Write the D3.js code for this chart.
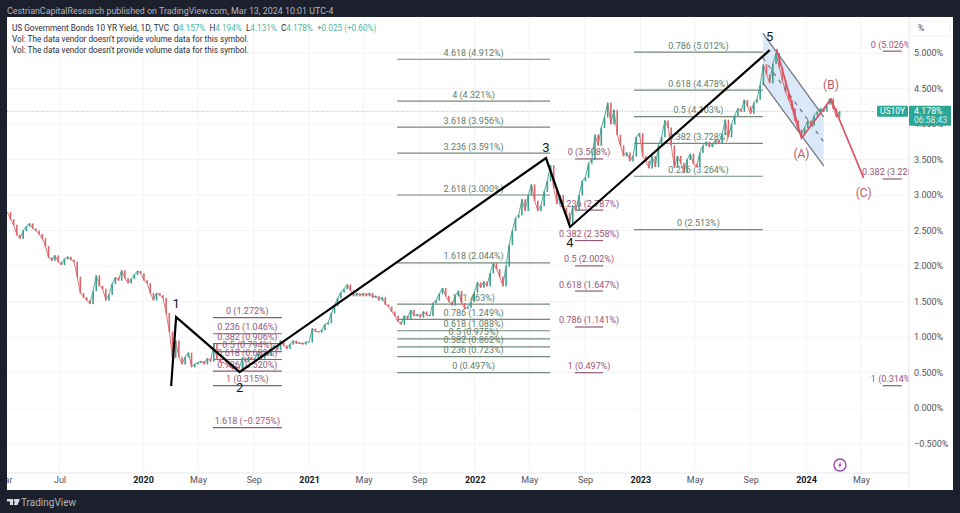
<!DOCTYPE html>
<html>
<head>
<meta charset="utf-8">
<script src="https://cdn.jsdelivr.net/npm/d3@7"></script>
<style>
    html, body { margin: 0; padding: 0; background: #1c202c; }
    svg { display: block; font-family: Roboto, "Noto Sans", sans-serif; }
</style>
</head>
<body>
<svg id="chart" width="960" height="513"></svg>
<script>
// weekly closes, first week is firstWeek
let firstWeek = new Date(2019, 2, 8)
let closes = [
    2.76,2.66,2.58,2.44,2.39,2.50,2.56,2.60,2.53,2.50,
    2.45,2.39,2.28,2.12,2.08,2.15,2.06,2.02,2.10,2.13,
    2.09,2.06,1.85,1.62,1.56,1.52,1.47,1.65,1.87,1.72,
    1.68,1.52,1.60,1.75,1.84,1.80,1.94,1.83,1.76,1.82,
    1.88,1.93,1.90,1.80,1.76,1.62,1.52,1.62,1.59,1.55,
    1.34,1.08,0.71,0.95,0.72,0.62,0.72,0.78,0.58,0.62,
    0.64,0.66,0.62,0.70,0.66,0.90,0.70,0.65,0.64,0.62,
    0.58,0.55,0.58,0.56,0.71,0.66,0.72,0.68,0.70,0.78,
    0.70,0.78,0.74,0.84,0.88,0.82,0.95,0.88,0.84,0.90,
    0.95,0.91,0.92,0.90,0.93,0.93,1.12,1.08,1.07,1.10,
    1.18,1.20,1.34,1.44,1.55,1.63,1.68,1.74,1.66,1.58,
    1.62,1.58,1.62,1.58,1.62,1.56,1.58,1.52,1.56,1.46,
    1.43,1.36,1.30,1.22,1.18,1.30,1.26,1.38,1.30,1.32,
    1.28,1.36,1.31,1.30,1.48,1.52,1.61,1.69,1.58,1.50,
    1.45,1.58,1.65,1.48,1.40,1.42,1.50,1.63,1.77,1.70,
    1.78,1.72,1.90,2.04,1.96,1.85,1.72,2.00,2.30,2.50,
    2.68,2.72,2.94,2.78,3.00,3.15,2.92,2.78,2.85,3.05,
    3.20,3.42,3.10,2.88,3.00,2.82,2.75,2.60,2.85,2.78,
    3.00,3.20,3.25,3.45,3.50,3.85,3.70,3.95,4.10,4.30,
    4.00,4.20,3.85,3.70,3.55,3.60,3.48,3.55,3.82,3.87,
    3.55,3.48,3.38,3.55,3.40,3.70,3.82,4.05,3.95,3.70,
    3.39,3.55,3.45,3.32,3.50,3.58,3.44,3.40,3.60,3.70,
    3.75,3.68,3.72,3.78,3.74,3.85,4.06,3.82,4.00,4.12,
    4.22,4.18,4.34,4.25,4.15,4.30,4.35,4.55,4.84,4.70,
    4.58,4.85,5.00,4.80,4.62,4.45,4.34,4.22,4.05,3.92,
    3.85,3.95,4.05,3.98,4.12,4.18,4.22,4.18,4.28,4.36,
    4.22,4.10,4.178
]

let lastClose = 4.178
let yTicks = [5, 4.5, 4, 3.5, 3, 2.5, 2, 1.5, 1, 0.5, 0, -0.5]
let xTickDates = ['2019-03-01','2019-07-01','2020-01-01','2020-05-01','2020-09-01','2021-01-01','2021-05-01','2021-09-01','2022-01-01','2022-05-01','2022-09-01','2023-01-01','2023-05-01','2023-09-01','2024-01-01','2024-05-01']
let xTickLabels = ['Mar','Jul','2020','May','Sep','2021','May','Sep','2022','May','Sep','2023','May','Sep','2024','May']

// elliott wave drawn in black
let waveDates = ['2020-03-03','2020-03-14','2020-08-01','2022-06-07','2022-07-30','2023-10-13']
let waveValues = [0.31, 1.28, 0.507, 3.52, 2.55, 5.04]
let waveLabels = ['', '1', '2', '3', '4', '5']
let waveLabelOffsets = [0, -9, 20, -6, 20, -9]

// corrective wave drawn in red
let abcDates = ['2023-10-28','2023-12-22','2024-02-25','2024-05-07']
let abcValues = [5.056, 3.80, 4.35, 3.24]
let abcLabels = ['', '(A)', '(B)', '(C)']
let abcLabelOffsets = [0, 20, -10, 19]

// falling channel
let channelDates = ['2023-09-28','2024-02-09']
let channelUpper = [5.28, 4.10]
let channelLower = [4.58, 3.41]
let channelMiddle = [4.93, 3.75]

// fibonacci groups: start, end, colour, levels
let fibStarts = ['2020-06-03','2021-07-14','2022-08-10','2022-12-18','2024-06-18']
let fibEnds = ['2020-11-02','2022-06-16','2022-10-11','2023-09-28','2024-07-30']
let fibKinds = ['retrace','extend','retrace','extend','retrace']
let fibRatios = [
    ['0','0.236','0.382','0.5','0.618','0.786','1','1.618'],
    ['4.618','4','3.618','3.236','2.618','1.618','1','0.786','0.618','0.5','0.382','0.236','0'],
    ['0','0.236','0.382','0.5','0.618','0.786','1'],
    ['0.786','0.618','0.5','0.382','0.236','0'],
    ['0','0.382','1']
]
let fibValues = [
    [1.272,1.046,0.906,0.794,0.683,0.520,0.315,-0.275],
    [4.912,4.321,3.956,3.591,3.000,2.044,1.463,1.249,1.088,0.975,0.862,0.723,0.497],
    [3.508,2.787,2.358,2.002,1.647,1.141,0.497],
    [5.012,4.478,4.103,3.728,3.264,2.513],
    [5.026,3.226,0.314]
]
let fibTextColor = {retrace: '#9a5579', extend: '#5f7d66'}
let fibLineColor = {retrace: '#8f5a78', extend: '#74897a'}

let legendParts = [
    ['US Government Bonds 10 YR Yield, 1D, TVC  ', '#2a2e39'],
    ['O', '#2a2e39'], ['4.157%  ', '#4db6a4'],
    ['H', '#2a2e39'], ['4.194%  ', '#4db6a4'],
    ['L', '#2a2e39'], ['4.131%  ', '#4db6a4'],
    ['C', '#2a2e39'], ['4.178%  ', '#4db6a4'],
    ['+0.025 (+0.60%)', '#4db6a4']
]
let volNote = "Vol: The data vendor doesn't provide volume data for this symbol."

let parseDay = d3.timeParse('%Y-%m-%d')

let panel = {left: 7, top: 17, right: 953, bottom: 490, axisX: 909, axisY: 473}

let chart = d3.select('#chart')

let x = d3.scaleTime()
    .domain([new Date(2020, 0, 1), new Date(2024, 0, 1)])
    .range([143, 806])
let y = d3.scaleLinear()
    .domain([0, 5])
    .range([408, 53])

let weekDate = (i) => d3.timeWeek.offset(firstWeek, i)

// header and footer on the dark frame
chart.append('text')
    .attr('x', 7).attr('y', 14)
    .attr('font-size', 8.9).attr('fill', '#b2b5be')
    .text('CestrianCapitalResearch published on TradingView.com, Mar 13, 2024 10:01 UTC-4')

chart.append('rect')
    .attr('x', panel.left).attr('y', panel.top)
    .attr('width', panel.right - panel.left).attr('height', panel.bottom - panel.top)
    .attr('fill', '#ffffff')

chart.append('clipPath').attr('id', 'plot-clip')
    .append('rect')
    .attr('x', panel.left).attr('y', panel.top)
    .attr('width', panel.axisX - panel.left).attr('height', panel.axisY - panel.top)

// grid
let grid = chart.append('g').attr('clip-path', 'url(#plot-clip)')
grid.selectAll('.hgrid').data(yTicks).enter().append('line')
    .attr('class', 'hgrid')
    .attr('x1', panel.left).attr('x2', panel.axisX)
    .attr('y1', (d) => y(d)).attr('y2', (d) => y(d))
    .attr('stroke', '#f3f4f6')
grid.selectAll('.vgrid').data(xTickDates).enter().append('line')
    .attr('class', 'vgrid')
    .attr('x1', (d) => x(parseDay(d))).attr('x2', (d) => x(parseDay(d)))
    .attr('y1', panel.top).attr('y2', panel.axisY)
    .attr('stroke', '#f3f4f6')

let plot = chart.append('g').attr('clip-path', 'url(#plot-clip)')

// last price dotted line
plot.append('line')
    .attr('x1', panel.left).attr('x2', panel.axisX)
    .attr('y1', y(lastClose)).attr('y2', y(lastClose))
    .attr('stroke', '#8fd0c4').attr('stroke-dasharray', '1 1.5')

// channel fill goes under the price
let channelX = channelDates.map((d) => x(parseDay(d)))
let channelArea = d3.area()
    .x((d, i) => channelX[i])
    .y0((d, i) => y(channelLower[i]))
    .y1((d, i) => y(channelUpper[i]))
plot.append('path')
    .attr('d', channelArea(channelDates))
    .attr('fill', '#dbe8f8')

// fib levels
fibStarts.forEach((start, g) => {
    let x1 = x(parseDay(start)),
        x2 = x(parseDay(fibEnds[g])),
        kind = fibKinds[g]
    let level = plot.append('g').selectAll('g')
        .data(fibValues[g])
        .enter().append('g')
    level.append('line')
        .attr('x1', x1).attr('x2', x2)
        .attr('y1', (d) => y(d)).attr('y2', (d) => y(d))
        .attr('stroke', fibLineColor[kind])
        .attr('stroke-width', 1.2)
    level.append('text')
        .attr('x', (x1 + x2) / 2)
        .attr('y', (d) => y(d) - 3.5)
        .attr('text-anchor', 'middle')
        .attr('font-size', 9)
        .attr('fill', fibTextColor[kind])
        .text((d, i) => fibRatios[g][i] + ' (' + d3.format('.3f')(d).replace('-', '\u2212') + '%)')
})

// price: thin line plus a small body per week, coloured by direction
let priceColor = (d, i) => d >= closes[i] ? '#3f9f8f' : '#d9656a'
plot.selectAll('.price').data(closes.slice(1)).enter().append('line')
    .attr('class', 'price')
    .attr('x1', (d, i) => x(weekDate(i)))
    .attr('y1', (d, i) => y(closes[i]))
    .attr('x2', (d, i) => x(weekDate(i + 1)))
    .attr('y2', (d) => y(d))
    .attr('stroke', priceColor)
    .attr('stroke-width', 0.9)
plot.selectAll('.body').data(closes.slice(1)).enter().append('rect')
    .attr('class', 'body')
    .attr('x', (d, i) => x(weekDate(i + 1)) - 0.8)
    .attr('y', (d, i) => Math.min(y(d), y(closes[i])))
    .attr('width', 1.6)
    .attr('height', (d, i) => Math.abs(y(d) - y(closes[i])) + 0.5)
    .attr('fill', priceColor)

// channel borders
let channelLine = (values) => d3.line()
    .x((d, i) => channelX[i])
    .y((d) => y(d))(values)
plot.selectAll('.channel').data([channelUpper, channelLower]).enter().append('path')
    .attr('class', 'channel')
    .attr('d', channelLine)
    .attr('fill', 'none').attr('stroke', '#6f7378').attr('stroke-width', 1.2)
plot.append('path')
    .attr('d', channelLine(channelMiddle))
    .attr('fill', 'none').attr('stroke', '#6f7378').attr('stroke-width', 1.2)
    .attr('stroke-dasharray', '4 5')

// wave lines
let waveLine = d3.line()
    .x((d) => x(parseDay(d)))
    .y((d, i) => y(waveValues[i]))
plot.append('path')
    .attr('d', waveLine(waveDates))
    .attr('fill', 'none').attr('stroke', '#000000').attr('stroke-width', 2.2)
plot.selectAll('.wave-label').data(waveLabels).enter().append('text')
    .attr('class', 'wave-label')
    .attr('x', (d, i) => x(parseDay(waveDates[i])))
    .attr('y', (d, i) => y(waveValues[i]) + waveLabelOffsets[i])
    .attr('text-anchor', 'middle')
    .attr('font-size', 13).attr('fill', '#131722')
    .text((d) => d)

let abcLine = d3.line()
    .x((d) => x(parseDay(d)))
    .y((d, i) => y(abcValues[i]))
plot.append('path')
    .attr('d', abcLine(abcDates))
    .attr('fill', 'none').attr('stroke', '#dc4f63').attr('stroke-width', 1.7)
plot.selectAll('.abc-label').data(abcLabels).enter().append('text')
    .attr('class', 'abc-label')
    .attr('x', (d, i) => x(parseDay(abcDates[i])))
    .attr('y', (d, i) => y(abcValues[i]) + abcLabelOffsets[i])
    .attr('text-anchor', 'middle')
    .attr('font-size', 12).attr('fill', '#c4566a')
    .text((d) => d)

// legend
let legend = chart.append('text')
    .attr('x', 12).attr('y', 31)
    .attr('font-size', 8.2)
    .attr('xml:space', 'preserve')
    .style('white-space', 'pre')
legendParts.forEach((part) => {
    legend.append('tspan').attr('fill', part[1]).text(part[0])
})
chart.selectAll('.vol-note').data([42, 53]).enter().append('text')
    .attr('class', 'vol-note')
    .attr('x', 12).attr('y', (d) => d)
    .attr('font-size', 8.2).attr('fill', '#2a2e39')
    .text(volNote)

// axes
chart.append('line')
    .attr('x1', panel.left).attr('x2', panel.axisX)
    .attr('y1', panel.axisY).attr('y2', panel.axisY)
    .attr('stroke', '#e6e7eb')
chart.append('line')
    .attr('x1', panel.axisX).attr('x2', panel.axisX)
    .attr('y1', panel.top).attr('y2', panel.axisY + 14)
    .attr('stroke', '#e6e7eb')

let xAxis = d3.axisBottom(x)
    .tickValues(xTickDates.map(parseDay))
    .tickFormat((d, i) => xTickLabels[i])
    .tickSize(0).tickPadding(4)
let xAxisG = chart.append('g')
    .attr('transform', 'translate(0,' + panel.axisY + ')')
    .attr('clip-path', 'url(#axis-clip)')
    .call(xAxis)
chart.append('clipPath').attr('id', 'axis-clip')
    .append('rect').attr('x', panel.left).attr('y', 0).attr('width', panel.axisX - panel.left).attr('height', 17)
xAxisG.select('.domain').remove()
xAxisG.selectAll('text')
    .attr('font-family', 'Roboto, sans-serif')
    .attr('font-size', 9)
    .attr('fill', (d, i) => /^\d/.test(xTickLabels[i]) ? '#131722' : '#50535e')
    .attr('font-weight', (d, i) => /^\d/.test(xTickLabels[i]) ? 700 : 400)

let yAxis = d3.axisRight(y)
    .tickValues(yTicks)
    .tickFormat((d) => d3.format('.3f')(d).replace('-', '\u2212') + '%')
    .tickSize(0).tickPadding(5)
let yAxisG = chart.append('g')
    .attr('transform', 'translate(' + panel.axisX + ',0)')
    .call(yAxis)
yAxisG.select('.domain').remove()
yAxisG.selectAll('text')
    .attr('font-family', 'Roboto, sans-serif')
    .attr('font-size', 9)
    .attr('fill', '#50535e')

// percent button
chart.append('rect')
    .attr('x', 912).attr('y', 21).attr('width', 38).attr('height', 15)
    .attr('rx', 2).attr('fill', '#ffffff').attr('stroke', '#eef0f3')
chart.append('text')
    .attr('x', 921).attr('y', 31)
    .attr('text-anchor', 'middle')
    .attr('font-size', 9).attr('fill', '#50535e')
    .text('%')

// last price tags
chart.append('rect')
    .attr('x', 877).attr('y', y(lastClose) - 5.5).attr('width', 31).attr('height', 11)
    .attr('rx', 1).attr('fill', '#2ba697')
chart.append('text')
    .attr('x', 892.5).attr('y', y(lastClose) + 3)
    .attr('text-anchor', 'middle')
    .attr('font-size', 8.5).attr('fill', '#ffffff')
    .text('US10Y')
chart.append('rect')
    .attr('x', 909).attr('y', y(lastClose) - 5.5).attr('width', 42).attr('height', 20)
    .attr('rx', 1).attr('fill', '#2ba697')
chart.append('text')
    .attr('x', 914).attr('y', y(lastClose) + 3)
    .attr('font-size', 8.8).attr('fill', '#ffffff')
    .text(d3.format('.3f')(lastClose) + '%')
chart.append('text')
    .attr('x', 914).attr('y', y(lastClose) + 12)
    .attr('font-size', 8.6).attr('fill', '#d6f0ec')
    .text('06:58:43')

// bolt marker
let bolt = chart.append('g').attr('transform', 'translate(840,465)')
bolt.append('circle')
    .attr('r', 6)
    .attr('fill', '#ffffff').attr('stroke', '#9c3fb0').attr('stroke-width', 1.3)
bolt.append('path')
    .attr('d', 'M1.2,-3.4 L-2,0.6 L-0.2,0.6 L-1.2,3.4 L2,-0.6 L0.2,-0.6 Z')
    .attr('fill', '#9c3fb0')

// footer logo
chart.append('path')
    .attr('d', 'M7,499 H13 V505 H10 V501.5 H7 Z M15.5,499 H20 L17.5,505 H13.8 Z')
    .attr('fill', '#d9dbe0')
chart.append('circle')
    .attr('cx', 14.8).attr('cy', 500.2).attr('r', 1.2)
    .attr('fill', '#d9dbe0')
chart.append('text')
    .attr('x', 21).attr('y', 506)
    .attr('font-size', 10).attr('fill', '#b2b5be')
    .text('TradingView')
</script>
</body>
</html>
